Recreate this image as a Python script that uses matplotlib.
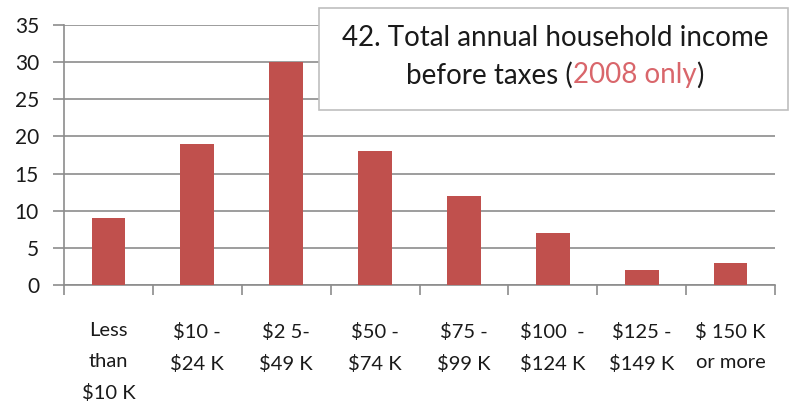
import matplotlib.pyplot as plt
from matplotlib.patches import Rectangle

# kategori pendapatan dan jumlah responden
kategori = ['Less\nthan\n$10 K', '$10 -\n$24 K', '$2 5-\n$49 K', '$50 -\n$74 K',
            '$75 -\n$99 K', '$100  -\n$124 K', '$125 -\n$149 K', '$ 150 K\nor more']
jumlah = [9, 19, 30, 18, 12, 7, 2, 3]
y_ticks = [0, 5, 10, 15, 20, 25, 30, 35]

plt.rcParams['font.family'] = ['Lato', 'DejaVu Sans']

fig = plt.figure(figsize=(7.91, 4.04), dpi=100)
ax = fig.add_axes([64 / 791, 1 - 285 / 404, 711 / 791, 260 / 404])

x = range(len(kategori))
ax.bar(x, jumlah, width=0.38, color='#C0504D', zorder=3)

ax.set_xlim(-0.5, len(kategori) - 0.5)
ax.set_ylim(0, 35)
ax.set_yticks(y_ticks)
ax.set_yticklabels([str(v) for v in y_ticks], fontsize=15, color='#1a1a1a')
ax.yaxis.grid(True, color='#8c8c8c', linewidth=1.2, zorder=0)

# tick pada batas kategori, label di tengah
ax.set_xticks([i - 0.5 for i in range(len(kategori) + 1)])
ax.set_xticklabels([])
ax.set_xticks(list(x), minor=True)
ax.set_xticklabels(kategori, minor=True, fontsize=14.5, linespacing=1.95,
                   color='#1a1a1a')
ax.tick_params(axis='x', which='minor', length=0, pad=27)
ax.tick_params(axis='x', which='major', length=7, width=1.2, color='#8c8c8c')
ax.tick_params(axis='y', length=8, width=1.2, color='#8c8c8c', pad=10)

for s in ['top', 'right']:
    ax.spines[s].set_visible(False)
for s in ['left', 'bottom']:
    ax.spines[s].set_color('#8c8c8c')
    ax.spines[s].set_linewidth(1.2)

# kotak judul
box = Rectangle((319 / 791, 1 - 110 / 404), 469 / 791, 102 / 404,
                transform=fig.transFigure, facecolor='white',
                edgecolor='#bfbfbf', linewidth=1.2, zorder=5)
fig.patches.append(box)

cx = 555 / 791
fig.text(cx, 1 - 38 / 404, '42. Total annual household income', ha='center',
         va='center', fontsize=20, color='#1a1a1a', zorder=6)

renderer = fig.canvas.get_renderer()
bagian = [('before taxes (', '#1a1a1a'), ('2008 only', '#D9666B'), (')', '#1a1a1a')]
teks = []
for s, c in bagian:
    t = fig.text(0, 1 - 75 / 404, s, ha='left', va='center', fontsize=20,
                 color=c, zorder=6)
    teks.append(t)
lebar = [t.get_window_extent(renderer).width for t in teks]
x0 = cx * 791 - sum(lebar) / 2
for t, w in zip(teks, lebar):
    t.set_x(x0 / 791)
    x0 += w

fig.savefig('out.png', dpi=100)
